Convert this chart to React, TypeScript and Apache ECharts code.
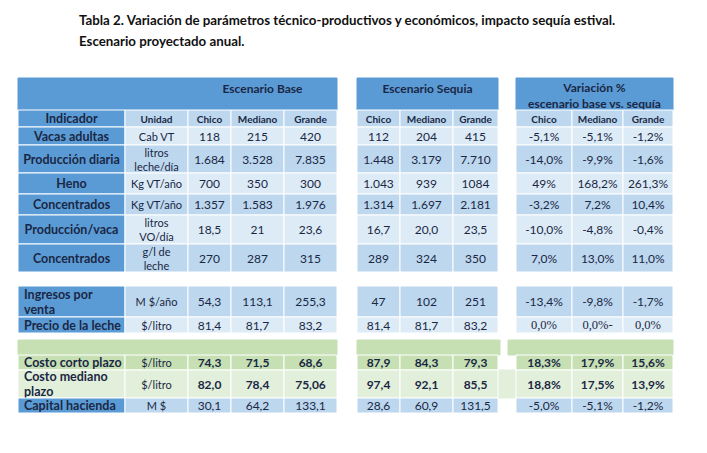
import React, { useEffect, useRef } from "react";
import * as echarts from "echarts";

const title1 = "Tabla 2. Variación de parámetros técnico-productivos y económicos, impacto sequía estival.";
const title2 = "Escenario proyectado anual.";
const groupHeaders = ["Escenario Base", "Escenario Sequia", "Variación %\nescenario base vs. sequía"];
const colHeaders = ["Chico", "Mediano", "Grande"];
const indicatorHeader = "Indicador";
const unitHeader = "Unidad";

const indicators = [
  "Vacas adultas", "Producción diaria", "Heno", "Concentrados", "Producción/vaca", "Concentrados",
  "Ingresos por\nventa", "Precio de la leche", "Costo corto plazo", "Costo mediano\nplazo", "Capital hacienda",
];
const units = [
  "Cab VT", "litros\nleche/día", "Kg VT/año", "Kg VT/año", "litros\nVO/día", "g/l de\nleche",
  "M $/año", "$/litro", "$/litro", "$/litro", "M $",
];
const baseChico = ["118", "1.684", "700", "1.357", "18,5", "270", "54,3", "81,4", "74,3", "82,0", "30,1"];
const baseMediano = ["215", "3.528", "350", "1.583", "21", "287", "113,1", "81,7", "71,5", "78,4", "64,2"];
const baseGrande = ["420", "7.835", "300", "1.976", "23,6", "315", "255,3", "83,2", "68,6", "75,06", "133,1"];
const sequiaChico = ["112", "1.448", "1.043", "1.314", "16,7", "289", "47", "81,4", "87,9", "97,4", "28,6"];
const sequiaMediano = ["204", "3.179", "939", "1.697", "20,0", "324", "102", "81,7", "84,3", "92,1", "60,9"];
const sequiaGrande = ["415", "7.710", "1084", "2.181", "23,5", "350", "251", "83,2", "79,3", "85,5", "131,5"];
const varChico = ["-5,1%", "-14,0%", "49%", "-3,2%", "-10,0%", "7,0%", "-13,4%", "0,0%", "18,3%", "18,8%", "-5,0%"];
const varMediano = ["-5,1%", "-9,9%", "168,2%", "7,2%", "-4,8%", "13,0%", "-9,8%", "0,0%-", "17,9%", "17,5%", "-5,1%"];
const varGrande = ["-1,2%", "-1,6%", "261,3%", "10,4%", "-0,4%", "11,0%", "-1,7%", "0,0%", "15,6%", "13,9%", "-1,2%"];

const FONT = "Lato, sans-serif";
const SERIF = "Liberation Serif, DejaVu Serif, serif";
const TXT = "#1a2744";
const BLUE = "#5b9bd5";
const L1 = "#bdd7ee";
const L2 = "#ddebf7";
const G1 = "#c6e0b4";
const G2 = "#e2efda";

// layout
const leftCols = [18, 125, 188, 231, 284, 337];
const midCols = [357, 400, 453, 498];
const rightCols = [516, 572, 623, 673];
const headerBand = [78, 110];
const headRow = [110, 127];
const rowLayout = [
  { y: [127, 145], fill: L2, ind: BLUE, left: false },
  { y: [145, 173], fill: L1, ind: BLUE, left: false },
  { y: [173, 194], fill: L2, ind: BLUE, left: false },
  { y: [194, 215], fill: L1, ind: BLUE, left: false },
  { y: [215, 244], fill: L2, ind: BLUE, left: false },
  { y: [244, 272], fill: L1, ind: BLUE, left: false },
  { y: [286, 317], fill: L1, ind: BLUE, left: true },
  { y: [317, 333], fill: L2, ind: BLUE, left: true, serif: true },
  { y: [355, 370], fill: G1, ind: G1, left: true, bold: true },
  { y: [370, 398], fill: G2, ind: G2, left: true, bold: true },
  { y: [398, 413], fill: L1, ind: BLUE, left: true },
];
const greenBand = [340, 355];

function rect(x0: number, y0: number, x1: number, y1: number, fill: string, stroke = "#ffffff") {
  return {
    type: "rect",
    shape: { x: x0, y: y0, width: x1 - x0, height: y1 - y0 },
    style: { fill, stroke, lineWidth: 1 },
    silent: true,
  };
}
function text(x: number, y: number, s: string, size: number, bold: boolean, align = "center", family = FONT, color = TXT, lh = 0) {
  return {
    type: "text",
    x,
    y,
    silent: true,
    style: {
      text: s,
      fill: color,
      fontSize: size,
      fontFamily: family,
      fontWeight: bold ? "bold" : "normal",
      align,
      verticalAlign: "middle",
      textAlign: align,
      textVerticalAlign: "middle",
      lineHeight: lh || size + 3,
    },
  };
}

export default function App() {
  const ref = useRef<HTMLDivElement>(null);
  useEffect(() => {
    if (!ref.current) return;
    const chart = echarts.init(ref.current, undefined, { renderer: "svg" });
    const els: any[] = [];
    // title
    els.push(text(79, 20, title1, 13.3, true, "left", FONT, "#111111"));
    els.push(text(79, 41, title2, 13.3, true, "left", FONT, "#111111"));

    // header bands
    els.push(rect(leftCols[0], headerBand[0], leftCols[5], headerBand[1], BLUE, BLUE));
    els.push(text((leftCols[2] + leftCols[5]) / 2, 88, groupHeaders[0], 12, true));
    els.push(rect(midCols[0], headerBand[0], midCols[3], headerBand[1], BLUE, BLUE));
    els.push(text((midCols[0] + midCols[3]) / 2, 88, groupHeaders[1], 12, true));
    els.push(rect(rightCols[0], headerBand[0], rightCols[3], headerBand[1], BLUE, BLUE));
    els.push(text((rightCols[0] + rightCols[3]) / 2, 95, groupHeaders[2], 12, true, "center", FONT, TXT, 16));

    // column header row
    els.push(rect(leftCols[0], headRow[0], leftCols[1], headRow[1], BLUE));
    els.push(text((leftCols[0] + leftCols[1]) / 2, (headRow[0] + headRow[1]) / 2, indicatorHeader, 12.5, true));
    els.push(rect(leftCols[1], headRow[0], leftCols[2], headRow[1], L1));
    els.push(text((leftCols[1] + leftCols[2]) / 2, (headRow[0] + headRow[1]) / 2, unitHeader, 10, true));
    const groups = [leftCols.slice(2), midCols, rightCols];
    groups.forEach((cols) => {
      for (let c = 0; c < 3; c++) {
        els.push(rect(cols[c], headRow[0], cols[c + 1], headRow[1], L1));
        els.push(text((cols[c] + cols[c + 1]) / 2, (headRow[0] + headRow[1]) / 2, colHeaders[c], 10, true));
      }
    });

    // green band
    els.push(rect(leftCols[0], greenBand[0], leftCols[5], greenBand[1], G1, G1));
    els.push(rect(midCols[0], greenBand[0], midCols[3] + 2, greenBand[1], G1, G1));
    els.push(rect(rightCols[0] - 8, greenBand[0], rightCols[3], greenBand[1], G1, G1));
    // bridge block
    els.push(rect(midCols[3], rowLayout[9].y[0], rightCols[0], rowLayout[9].y[1], G2, G2));

    const valueCols = [baseChico, baseMediano, baseGrande, sequiaChico, sequiaMediano, sequiaGrande, varChico, varMediano, varGrande];
    const valueXs: number[][] = [
      [leftCols[2], leftCols[3]], [leftCols[3], leftCols[4]], [leftCols[4], leftCols[5]],
      [midCols[0], midCols[1]], [midCols[1], midCols[2]], [midCols[2], midCols[3]],
      [rightCols[0], rightCols[1]], [rightCols[1], rightCols[2]], [rightCols[2], rightCols[3]],
    ];
    rowLayout.forEach((r, i) => {
      const [y0, y1] = r.y;
      const cy = (y0 + y1) / 2;
      els.push(rect(leftCols[0], y0, leftCols[1], y1, r.ind));
      if (r.left) els.push(text(leftCols[0] + 6, cy, indicators[i], 12.5, true, "left", FONT, TXT, 15));
      else els.push(text((leftCols[0] + leftCols[1]) / 2, cy, indicators[i], 12.5, true));
      els.push(rect(leftCols[1], y0, leftCols[2], y1, r.fill));
      els.push(text((leftCols[1] + leftCols[2]) / 2, cy, units[i], 11, false));
      valueCols.forEach((arr, c) => {
        const [x0, x1] = valueXs[c];
        els.push(rect(x0, y0, x1, y1, r.fill));
        const isSerif = !!r.serif && c >= 6;
        els.push(text((x0 + x1) / 2, cy, arr[i], isSerif ? 12.5 : 12, !!r.bold, "center", isSerif ? SERIF : FONT));
      });
    });

    chart.setOption({
      animation: false,
      backgroundColor: "#ffffff",
      graphic: { elements: els },
    });
    return () => chart.dispose();
  }, []);
  return <div ref={ref} style={{ position: "fixed", left: 0, top: 0, width: 707, height: 453 }} />;
}
